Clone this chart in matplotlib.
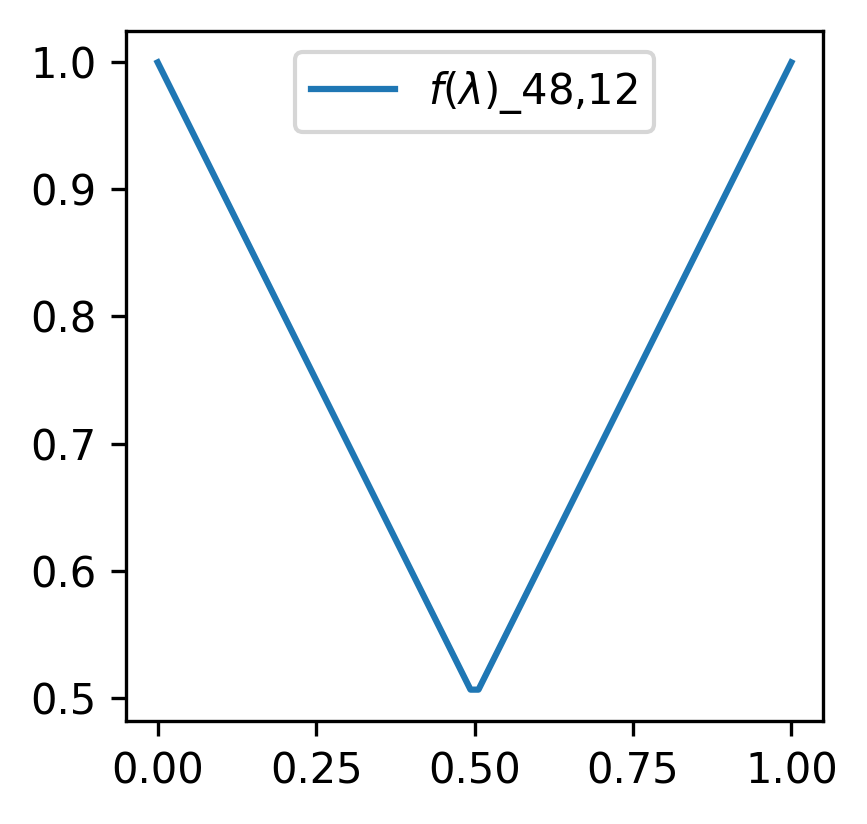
import numpy as np
import matplotlib.pyplot as plt

lam = [0.0, 0.4937, 0.5063, 1.0]
f_vals = [1.0, 0.5063, 0.5063, 1.0]
label = r'$f(\lambda)$_48,12'

fig = plt.figure(figsize=(867 / 300, 824 / 300), dpi=300)
ax = fig.add_axes([126 / 867, 1 - 721 / 824, (823 - 126) / 867, (721 - 31) / 824])
ax.plot(lam, f_vals, label=label)
ax.set_xticks([0.0, 0.25, 0.5, 0.75, 1.0])
ax.legend(loc='upper center')
fig.savefig('out.png', dpi=300)
